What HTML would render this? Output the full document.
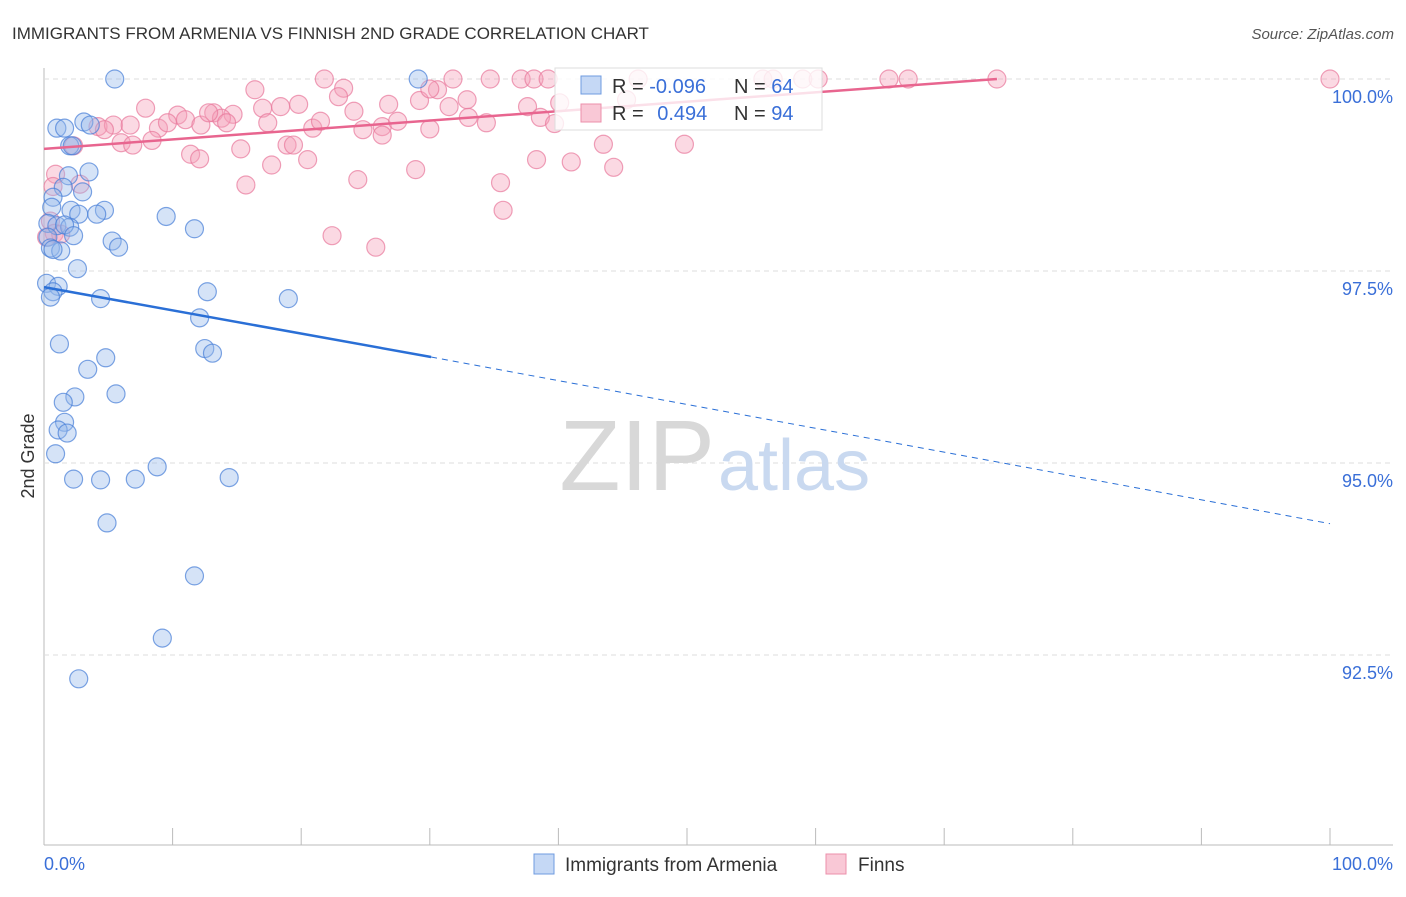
<!DOCTYPE html>
<html><head><meta charset="utf-8"><style>
body{margin:0;background:#fff;font-family:"Liberation Sans",sans-serif}
svg text{font-family:"Liberation Sans",sans-serif}
</style></head><body>
<svg width="1406" height="892" xmlns="http://www.w3.org/2000/svg">
<text x="12" y="39" font-size="17" fill="#333">IMMIGRANTS FROM ARMENIA VS FINNISH 2ND GRADE CORRELATION CHART</text>
<text x="1394" y="39" font-size="15" fill="#555" text-anchor="end" font-style="italic">Source: ZipAtlas.com</text>
<g id="grid"></g>
<text x="715" y="490" font-size="100" fill="#d8d8d8" text-anchor="end" font-family="Liberation Serif">ZIP</text>
<text x="718" y="490" font-size="72" fill="#c9d9f0">atlas</text>
<g id="pts"></g>
<g id="lines"></g>
<text transform="translate(34,456) rotate(-90)" font-size="18" fill="#333" text-anchor="middle">2nd Grade</text>
<text x="44" y="870" font-size="18" fill="#3a6fd8">0.0%</text>
<text x="1393" y="870" font-size="18" fill="#3a6fd8" text-anchor="end">100.0%</text>
<g>
<rect x="555" y="68" width="267" height="62" fill="#fff" fill-opacity="0.8" stroke="#ddd"/>
<rect x="581" y="76" width="20" height="18" fill="#c5d8f5" stroke="#6f9be0"/>
<rect x="581" y="104" width="20" height="18" fill="#f9c8d6" stroke="#ec8fab"/>
<text x="612" y="93" font-size="20" fill="#333">R = <tspan fill="#3a6fd8">-0.096</tspan></text>
<text x="734" y="93" font-size="20" fill="#333">N = <tspan fill="#3a6fd8">64</tspan></text>
<text x="612" y="120" font-size="20" fill="#333">R =  <tspan fill="#3a6fd8" dx="8">0.494</tspan></text>
<text x="734" y="120" font-size="20" fill="#333">N = <tspan fill="#3a6fd8">94</tspan></text>
</g>
<g>
<rect x="534" y="854" width="20" height="20" fill="#c5d8f5" stroke="#6f9be0"/>
<text x="565" y="871" font-size="19" fill="#333">Immigrants from Armenia</text>
<rect x="826" y="854" width="20" height="20" fill="#f9c8d6" stroke="#ec8fab"/>
<text x="858" y="871" font-size="19" fill="#333">Finns</text>
</g>
</svg>
<script>
const yTicks=[100,97.5,95,92.5];
const yTickLabels=["100.0%","97.5%","95.0%","92.5%"];
const xTicks=[0,10,20,30,40,50,60,70,80,90,100];
const blueX=[5.5,29.1,1.0,1.6,3.1,3.6,2.0,2.2,3.5,1.9,1.5,3.0,0.7,0.6,2.1,4.7,4.1,2.7,9.5,11.7,0.3,1.0,2.0,1.6,0.3,2.3,5.3,5.8,0.5,1.3,0.7,2.6,0.2,1.1,0.7,0.5,4.4,12.7,19.0,12.1,1.2,12.5,13.1,4.8,3.4,5.6,2.4,1.5,1.6,1.1,1.8,0.9,8.8,2.3,4.4,7.1,14.4,4.9,11.7,9.2,2.7];
const blueY=[100,100,99.36,99.36,99.44,99.4,99.13,99.13,98.79,98.74,98.59,98.53,98.46,98.33,98.29,98.29,98.24,98.24,98.21,98.05,98.12,98.09,98.07,98.1,97.94,97.96,97.89,97.81,97.8,97.76,97.78,97.53,97.34,97.3,97.23,97.16,97.14,97.23,97.14,96.89,96.55,96.49,96.43,96.37,96.22,95.9,95.86,95.79,95.53,95.43,95.39,95.12,94.95,94.79,94.78,94.79,94.81,94.22,93.53,92.72,92.19];
const pinkX=[74.1,100,65.7,67.2,21.8,31.8,34.7,37.1,38.1,39.2,46.2,59,60.2,55.9,56.7,16.4,23.3,22.9,30.6,7.9,10.4,13.2,14.7,17.0,18.4,19.8,24.1,26.8,29.2,31.5,32.9,37.6,40.1,45.3,4.2,5.4,6.7,4.7,8.9,9.6,11.0,12.2,13.8,12.8,14.2,17.4,20.9,21.5,24.8,26.3,27.5,30.0,33.0,34.4,38.6,39.7,6.0,6.9,8.4,11.4,12.1,15.3,18.9,19.4,26.3,30.0,0.9,2.8,2.3,0.7,17.7,20.5,15.7,24.4,28.9,35.5,38.3,41.0,43.5,44.3,49.8,35.7,22.4,25.8,0.5,0.8,1.3,0.2];
const pinkY=[100,100,100,100,100,100,100,100,100,100,100,100,100,100,100,99.86,99.88,99.77,99.86,99.62,99.53,99.56,99.54,99.62,99.64,99.67,99.58,99.67,99.72,99.64,99.73,99.64,99.69,99.73,99.38,99.4,99.4,99.34,99.36,99.43,99.47,99.4,99.49,99.56,99.43,99.43,99.36,99.45,99.34,99.38,99.45,99.35,99.5,99.43,99.5,99.42,99.17,99.14,99.2,99.02,98.96,99.09,99.14,99.14,99.27,99.87,98.76,98.63,99.13,98.6,98.88,98.95,98.62,98.69,98.82,98.65,98.95,98.92,99.15,98.85,99.15,98.29,97.96,97.81,98.15,97.99,97.98,97.94];
const NS="http://www.w3.org/2000/svg";
const X0=44,X1=1330,Y100=79,PXP=76.8;
const sx=v=>X0+(X1-X0)*v/100;
const sy=v=>Y100+(100-v)*PXP;
const grid=document.getElementById('grid');
function mk(tag,attrs,parent){const e=document.createElementNS(NS,tag);for(const k in attrs)e.setAttribute(k,attrs[k]);parent.appendChild(e);return e;}
const ya=mk('line',{x1:44,x2:44,y1:68,y2:845,stroke:'#bbb'},grid);


const xa=mk('line',{x1:44,x2:1393,y1:845,y2:845,stroke:'#bbb'},grid);


yTicks.forEach((t,i)=>{
 const g=mk('line',{x1:44,x2:1393,y1:sy(t),y2:sy(t),stroke:'#ddd','stroke-dasharray':'5,4'},grid);
 
 
 const l=mk('text',{x:1393,y:sy(t)+24,'font-size':18,fill:'#3a6fd8','text-anchor':'end'},grid);
 l.textContent=yTickLabels[i];
 
 
});
xTicks.forEach(t=>{
 const k=mk('line',{x1:sx(t),x2:sx(t),y1:828,y2:845,stroke:'#bbb'},grid);
 
 
});
const pts=document.getElementById('pts');
pinkX.forEach((x,i)=>{
 const c=mk('circle',{cx:sx(x),cy:sy(pinkY[i]),r:9,fill:'rgba(244,160,185,0.4)',stroke:'rgba(232,120,155,0.7)','stroke-width':1.2},pts);
 
 
});
blueX.forEach((x,i)=>{
 const c=mk('circle',{cx:sx(x),cy:sy(blueY[i]),r:9,fill:'rgba(150,185,235,0.4)',stroke:'rgba(70,125,215,0.7)','stroke-width':1.2},pts);
 
 
});
const lines=document.getElementById('lines');
const pl=mk('line',{x1:sx(0),y1:sy(99.09),x2:sx(74.1),y2:sy(100),stroke:'#e8658f','stroke-width':2.5},lines);


const bl=mk('line',{x1:sx(0),y1:sy(97.29),x2:sx(30.1),y2:sy(96.38),stroke:'#2a6fd6','stroke-width':2.5},lines);


const bd=mk('line',{x1:sx(30.1),y1:sy(96.38),x2:sx(100),y2:sy(94.21),stroke:'#2a6fd6','stroke-width':1,'stroke-dasharray':'6,5'},lines);


</script>
</body></html>
